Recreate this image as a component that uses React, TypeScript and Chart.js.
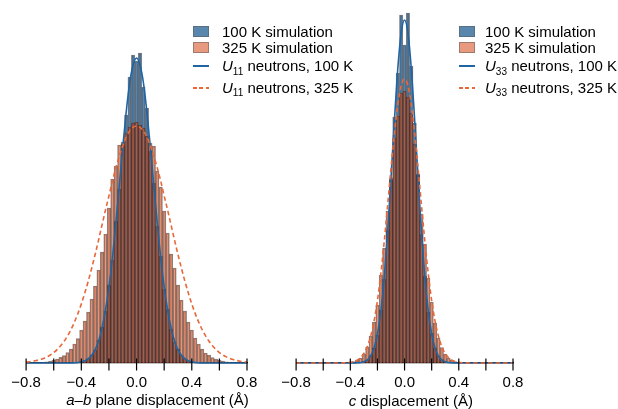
import React, { useEffect, useRef } from 'react';
import { Chart, registerables } from 'chart.js';
Chart.register(...registerables);

// ---------- data ----------
// histogram bins (bin centres) : a-b plane panel and c panel
const binWidth = 0.025;
const binStartAB = -0.75;
const binCountAB = 61;
const binStartC = -0.45;
const binCountC = 37;

// 100 K simulation, a-b plane displacement histogram
const histAB100 = [0,0,0,0,0,0,0,0,0,0,0,0,0.002,0.006,0.013,0.025,0.045,0.08,0.13,0.23,0.36,0.52,0.78,1.03,1.42,1.74,2.19,2.48,2.86,3.08,3.02,3.10,2.76,2.55,2.12,1.80,1.37,1.07,0.74,0.54,0.34,0.21,0.14,0.075,0.042,0.022,0.012,0.005,0.002,0,0,0,0,0,0,0,0,0,0,0,0];
// 325 K simulation, a-b plane displacement histogram
const histAB325 = [0.002,0.003,0.005,0.007,0.012,0.018,0.027,0.04,0.056,0.075,0.105,0.14,0.19,0.245,0.33,0.42,0.51,0.64,0.77,0.93,1.11,1.29,1.55,1.84,1.97,2.18,2.21,2.30,2.36,2.40,2.41,2.38,2.35,2.27,2.20,2.17,1.92,1.76,1.52,1.30,1.09,0.95,0.78,0.63,0.52,0.41,0.33,0.25,0.19,0.14,0.10,0.078,0.055,0.038,0.027,0.018,0.012,0.008,0.005,0.003,0.002];
// 100 K simulation, c displacement histogram
const histC100 = [0,0,0,0,0.002,0.005,0.014,0.03,0.075,0.15,0.28,0.53,0.84,1.33,1.83,2.46,2.90,3.48,3.18,3.50,2.97,2.40,1.88,1.29,0.87,0.51,0.30,0.15,0.07,0.033,0.013,0.005,0.002,0,0,0,0];
// 325 K simulation, c displacement histogram
const histC325 = [0.001,0.003,0.007,0.013,0.026,0.05,0.09,0.16,0.27,0.41,0.58,0.88,1.15,1.52,1.85,2.25,2.47,2.70,2.72,2.66,2.50,2.19,1.89,1.49,1.19,0.85,0.61,0.40,0.25,0.155,0.09,0.05,0.028,0.014,0.007,0.003,0.001];

// neutron curves, sampled from -0.8 to 0.8 every 0.025
const curveStart = -0.8;
const curveStep = 0.025;
const curveCount = 65;
const u11At100 = [0,0,0,0,0,0,0,0,0,0,0,0,0,0,0.002,0.005,0.012,0.023,0.043,0.078,0.134,0.22,0.35,0.53,0.76,1.05,1.40,1.77,2.16,2.51,2.80,2.98,3.05,2.98,2.80,2.51,2.16,1.77,1.40,1.05,0.76,0.53,0.35,0.22,0.134,0.078,0.043,0.023,0.012,0.005,0.002,0,0,0,0,0,0,0,0,0,0,0,0,0,0];
const u11At325 = [0.009,0.013,0.018,0.025,0.034,0.045,0.061,0.080,0.104,0.134,0.172,0.217,0.271,0.334,0.409,0.494,0.591,0.699,0.818,0.948,1.085,1.23,1.38,1.53,1.67,1.82,1.95,2.07,2.17,2.26,2.32,2.357,2.37,2.357,2.32,2.26,2.17,2.07,1.95,1.82,1.67,1.53,1.38,1.23,1.085,0.948,0.818,0.699,0.591,0.494,0.409,0.334,0.271,0.217,0.172,0.134,0.104,0.080,0.061,0.045,0.034,0.025,0.018,0.013,0.009];
const u33At100 = [0,0,0,0,0,0,0,0,0,0,0,0,0,0,0,0,0,0,0.002,0.005,0.013,0.032,0.072,0.151,0.290,0.518,0.855,1.31,1.85,2.42,2.94,3.30,3.43,3.30,2.94,2.42,1.85,1.31,0.855,0.518,0.290,0.151,0.072,0.032,0.013,0.005,0.002,0,0,0,0,0,0,0,0,0,0,0,0,0,0,0,0,0,0];
const u33At325 = [0,0,0,0,0,0,0,0,0,0,0,0,0,0,0.001,0.003,0.007,0.014,0.028,0.053,0.095,0.163,0.267,0.418,0.625,0.892,1.213,1.573,1.945,2.295,2.584,2.775,2.84,2.775,2.584,2.295,1.945,1.573,1.213,0.892,0.625,0.418,0.267,0.163,0.095,0.053,0.028,0.014,0.007,0.003,0.001,0,0,0,0,0,0,0,0,0,0,0,0,0,0];

const xMin = -0.8;
const xMax = 0.8;
const xTickStep = 0.2;

// ---------- style ----------
const FONT = '"Liberation Sans", Arial, Helvetica, sans-serif';
const BLUE_FILL = 'rgba(25,88,140,0.72)';
const ORANGE_FILL = 'rgba(212,75,25,0.56)';
const BAR_EDGE = 'rgba(40,30,30,0.55)';
const BLUE_LINE = '#1f64a3';
const ORANGE_LINE = '#e8683a';

const range = (start: number, step: number, n: number) =>
  Array.from({ length: n }, (_, i) => Math.round((start + i * step) * 10000) / 10000);

const inoutTicks = {
  id: 'inoutTicks',
  afterDatasetsDraw(chart: any) {
    const sc = chart.scales.x;
    const ctx = chart.ctx;
    const y = chart.chartArea.bottom;
    ctx.save();
    ctx.strokeStyle = '#000';
    ctx.lineWidth = 1.2;
    sc.ticks.forEach((t: any) => {
      const x = sc.getPixelForValue(t.value);
      ctx.beginPath();
      ctx.moveTo(x, y - 4.5);
      ctx.lineTo(x, y + 7.5);
      ctx.stroke();
    });
    ctx.restore();
  },
};

function tickLabel(v: number) {
  const k = Math.round(v * 10);
  if (k % 4 !== 0) return '';
  const s = (k / 10).toFixed(1);
  return s.replace('-', '\u2212');
}

function buildConfig(
  centers: number[],
  h100: number[],
  h325: number[],
  c100: number[],
  c325: number[],
  padLeft: number,
  padRight: number
): any {
  const cx = range(curveStart, curveStep, curveCount);
  return {
    type: 'bar',
    data: {
      datasets: [
        {
          type: 'line',
          data: cx.map((x, i) => ({ x, y: c325[i] })),
          borderColor: ORANGE_LINE,
          borderWidth: 1.6,
          borderDash: [4.5, 3],
          pointRadius: 0,
          cubicInterpolationMode: 'monotone',
          fill: false,
          clip: false,
          order: 0,
        },
        {
          type: 'line',
          data: cx.map((x, i) => ({ x, y: c100[i] })),
          borderColor: BLUE_LINE,
          borderWidth: 1.6,
          pointRadius: 0,
          cubicInterpolationMode: 'monotone',
          fill: false,
          clip: false,
          order: 1,
        },
        {
          type: 'bar',
          data: centers.map((x, i) => ({ x, y: h325[i] })),
          backgroundColor: ORANGE_FILL,
          borderColor: BAR_EDGE,
          borderWidth: 0.9,
          barPercentage: 1,
          categoryPercentage: 1,
          grouped: false,
          order: 2,
        },
        {
          type: 'bar',
          data: centers.map((x, i) => ({ x, y: h100[i] })),
          backgroundColor: BLUE_FILL,
          borderColor: BAR_EDGE,
          borderWidth: 0.9,
          barPercentage: 1,
          categoryPercentage: 1,
          grouped: false,
          order: 3,
        },
      ],
    },
    options: {
      animation: false,
      responsive: false,
      events: [],
      layout: { padding: { left: padLeft, right: padRight, top: 8, bottom: 5.4 } },
      plugins: { legend: { display: false }, tooltip: { enabled: false } },
      scales: {
        x: {
          type: 'linear',
          min: xMin,
          max: xMax,
          offset: false,
          grid: { display: false, drawTicks: false },
          border: { display: true, color: '#000', width: 1.2 },
          ticks: {
            stepSize: xTickStep,
            autoSkip: false,
            maxRotation: 0,
            padding: 11.3,
            color: '#000',
            font: { family: FONT, size: 15 },
            callback: (v: any) => tickLabel(Number(v)),
          },
        },
        y: { display: false, min: 0, max: 3.55 },
      },
    },
    plugins: [inoutTicks],
  };
}

const textStyle: React.CSSProperties = {
  position: 'absolute',
  fontFamily: FONT,
  fontSize: 15,
  lineHeight: '17px',
  color: '#000',
  whiteSpace: 'nowrap',
};

function Sub({ children }: { children: React.ReactNode }) {
  return (
    <span style={{ fontSize: 10, position: 'relative', top: 3.5 }}>{children}</span>
  );
}

function Legend({ left, textLeft, sub }: { left: number; textLeft: number; sub: string }) {
  const rows = [31, 47.5, 65.5, 87];
  const sw: React.CSSProperties = {
    position: 'absolute',
    left,
    width: 16,
    height: 11,
    boxSizing: 'border-box',
    border: '1px solid rgba(90,90,90,0.5)',
  };
  return (
    <>
      <div style={{ ...sw, top: rows[0] - 5.5, background: BLUE_FILL }} />
      <div style={{ ...sw, top: rows[1] - 5.5, background: ORANGE_FILL }} />
      <div style={{ position: 'absolute', left, top: 65, width: 16, height: 2, background: BLUE_LINE }} />
      <div
        style={{
          position: 'absolute',
          left,
          top: 87,
          width: 16,
          height: 2,
          background: `repeating-linear-gradient(to right, ${ORANGE_LINE} 0px, ${ORANGE_LINE} 4px, transparent 4px, transparent 6.5px)`,
        }}
      />
      <div style={{ ...textStyle, left: textLeft, top: rows[0] - 8.3 }}>100 K simulation</div>
      <div style={{ ...textStyle, left: textLeft, top: rows[1] - 8.3 }}>325 K simulation</div>
      <div style={{ ...textStyle, left: textLeft, top: rows[2] - 8.3 }}>
        <i>U</i>
        <Sub>{sub}</Sub> neutrons, 100 K
      </div>
      <div style={{ ...textStyle, left: textLeft, top: rows[3] - 8.3 }}>
        <i>U</i>
        <Sub>{sub}</Sub> neutrons, 325 K
      </div>
    </>
  );
}

export default function App() {
  const leftRef = useRef<HTMLCanvasElement>(null);
  const rightRef = useRef<HTMLCanvasElement>(null);

  useEffect(() => {
    const centersAB = range(binStartAB, binWidth, binCountAB);
    const centersC = range(binStartC, binWidth, binCountC);
    const c1 = new Chart(
      leftRef.current as HTMLCanvasElement,
      buildConfig(centersAB, histAB100, histAB325, u11At100, u11At325, 22, 23)
    );
    const c2 = new Chart(
      rightRef.current as HTMLCanvasElement,
      buildConfig(centersC, histC100, histC325, u33At100, u33At325, 17, 105)
    );
    return () => {
      c1.destroy();
      c2.destroy();
    };
  }, []);

  return (
    <div style={{ position: 'absolute', left: 0, top: 0, width: 618, height: 409, background: '#fff', overflow: 'hidden' }}>
      <canvas ref={leftRef} width={270} height={409} style={{ position: 'absolute', left: 0, top: 0 }} />
      <canvas ref={rightRef} width={348} height={409} style={{ position: 'absolute', left: 270, top: 0 }} />
      <Legend left={193} textLeft={222} sub="11" />
      <Legend left={459} textLeft={485} sub="33" />
      <div style={{ ...textStyle, left: 157.5 - 150, width: 300, textAlign: 'center', top: 399.5 - 8.3 }}>
        <i>a</i>–<i>b</i> plane displacement (Å)
      </div>
      <div style={{ ...textStyle, left: 410.8 - 150, width: 300, textAlign: 'center', top: 400 - 8.3 }}>
        <i>c</i> displacement (Å)
      </div>
    </div>
  );
}
